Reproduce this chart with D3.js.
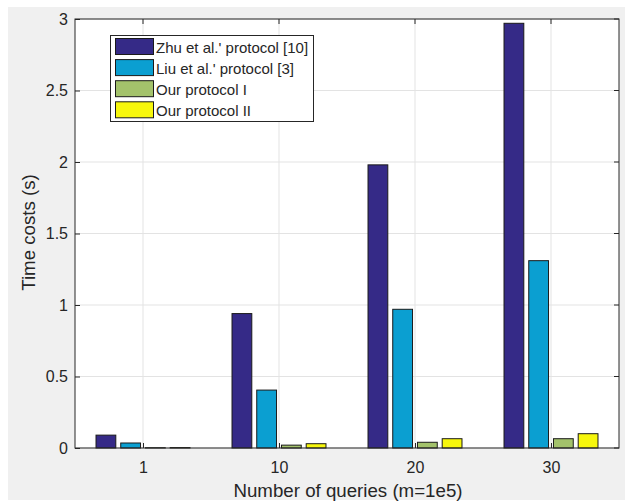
<!DOCTYPE html>
<html><head><meta charset="utf-8">
<script src="https://cdn.jsdelivr.net/npm/d3@7"></script>
<style>body{margin:0;background:#fff}svg{display:block}text{font-family:"Liberation Sans",Arial,sans-serif;fill:#262626}</style>
</head><body><svg id="c" width="625" height="502"></svg>
<script>
const categories = ["1", "10", "20", "30"];
const seriesNames = ["Zhu et al.' protocol [10]", "Liu et al.' protocol [3]", "Our protocol I", "Our protocol II"];
const zhu = [0.09, 0.94, 1.98, 2.97];
const liu = [0.035, 0.405, 0.97, 1.31];
const our1 = [0.002, 0.02, 0.04, 0.065];
const our2 = [0.003, 0.03, 0.065, 0.10];
const yTicks = [0, 0.5, 1, 1.5, 2, 2.5, 3];
const colors = ["#352a87", "#0b9fd1", "#a3c26b", "#f7f70c"];
const series = [zhu, liu, our1, our2];

const svg = d3.select("#c");
const L = 75, R = 619, T = 19, B = 448;
svg.append("rect").attr("x", 8).attr("y", 7).attr("width", 617).attr("height", 493).attr("fill", "#f0f0f0");
svg.append("rect").attr("x", L).attr("y", T).attr("width", R - L).attr("height", B - T).attr("fill", "#fff");

const x = d3.scaleLinear().domain([0.5, categories.length + 0.5]).range([L, R]);
const y = d3.scaleLinear().domain([0, 3]).range([B, T]);

// grid
const g = svg.append("g");
g.selectAll(".vg").data(categories).join("line")
  .attr("x1", (d, i) => x(i + 1)).attr("x2", (d, i) => x(i + 1))
  .attr("y1", T).attr("y2", B).attr("stroke", "#e3e3e3").attr("stroke-width", 1);
g.selectAll(".hg").data(yTicks).join("line")
  .attr("x1", L).attr("x2", R).attr("y1", d => y(d)).attr("y2", d => y(d))
  .attr("stroke", "#e3e3e3").attr("stroke-width", 1);

// bars
const nS = series.length;
const groupW = Math.min(0.8, nS / (nS + 1.5));
const pitch = groupW / nS;
const bw = pitch * 0.8;
series.forEach((s, k) => {
  const off = (k - (nS - 1) / 2) * pitch;
  svg.append("g").selectAll("rect").data(s).join("rect")
    .attr("x", (d, i) => x(i + 1 + off - bw / 2))
    .attr("width", x(bw) - x(0))
    .attr("y", d => y(d))
    .attr("height", d => y(0) - y(d))
    .attr("fill", colors[k]).attr("stroke", "#1a1a1a").attr("stroke-width", 1);
});

// axes
const axG = svg.append("g");
axG.append("rect").attr("x", L).attr("y", T).attr("width", R - L).attr("height", B - T)
  .attr("fill", "none").attr("stroke", "#262626").attr("stroke-width", 1);
const xAxis = d3.axisBottom(x).tickValues(categories.map((d, i) => i + 1)).tickFormat((d) => categories[d - 1]).tickSizeInner(-5).tickSizeOuter(0).tickPadding(14);
const xa = svg.append("g").attr("transform", `translate(0,${B})`).call(xAxis);
const yAxis = d3.axisLeft(y).tickValues(yTicks).tickFormat(d3.format("~g")).tickSizeInner(-5).tickSizeOuter(0).tickPadding(7);
const ya = svg.append("g").attr("transform", `translate(${L},0)`).call(yAxis);
[xa, ya].forEach(a => {
  a.select(".domain").remove();
  a.selectAll("line").attr("stroke", "#262626");
  a.selectAll("text").attr("font-size", 16).attr("fill", "#262626").style("font-family", "Liberation Sans, Arial, sans-serif");
});
// top and right ticks
svg.append("g").selectAll("line").data(categories).join("line")
  .attr("x1", (d, i) => x(i + 1)).attr("x2", (d, i) => x(i + 1)).attr("y1", T).attr("y2", T + 5).attr("stroke", "#262626");
svg.append("g").selectAll("line").data(yTicks).join("line")
  .attr("x1", R).attr("x2", R - 5).attr("y1", d => y(d)).attr("y2", d => y(d)).attr("stroke", "#262626");

svg.append("text").attr("x", (L + R) / 2 + 1).attr("y", 497).attr("text-anchor", "middle").attr("font-size", 18.7).text("Number of queries (m=1e5)");
svg.append("text").attr("transform", `translate(35,${(T + B) / 2 - 1}) rotate(-90)`).attr("text-anchor", "middle").attr("font-size", 18.7).text("Time costs (s)");

// legend
const lg = svg.append("g");
lg.append("rect").attr("x", 110.5).attr("y", 35.5).attr("width", 203).attr("height", 86).attr("fill", "#fff").attr("stroke", "#262626").attr("stroke-width", 1);
seriesNames.forEach((n, k) => {
  const yy = 38.5 + k * 21.1;
  lg.append("rect").attr("x", 115.5).attr("y", yy).attr("width", 38).attr("height", 16).attr("fill", colors[k]).attr("stroke", "#1a1a1a");
  lg.append("text").attr("x", 156).attr("y", yy + 14.5).attr("font-size", 15).attr("fill", "#000").text(n);
});
</script></body></html>
